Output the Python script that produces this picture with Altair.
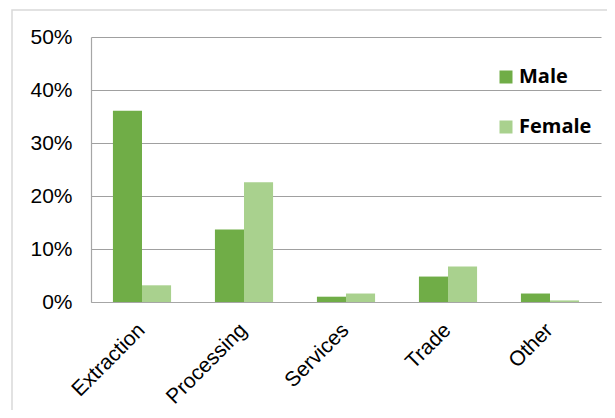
import altair as alt
import pandas as pd

categories = ["Extraction", "Processing", "Services", "Trade", "Other"]
male = [36.1, 13.7, 1.0, 4.8, 1.6]
female = [3.15, 22.6, 1.6, 6.7, 0.3]
series = ["Male", "Female"]
colors = ["#70AD47", "#A9D18E"]

rows = []
for i, c in enumerate(categories):
    rows.append({"sector": c, "sex": "Male", "share": male[i] / 100})
    rows.append({"sector": c, "sex": "Female", "share": female[i] / 100})
df = pd.DataFrame(rows)

frame = alt.Chart(pd.DataFrame({"k": [0]})).mark_rect(
    fill=None, stroke="#D9D9D9", strokeWidth=1.5
).encode(
    x=alt.value(-79), x2=alt.value(540), y=alt.value(-27), y2=alt.value(400)
)

bars = alt.Chart(df).mark_bar().encode(
    x=alt.X("sector:N", sort=categories,
            scale=alt.Scale(paddingInner=0.43, paddingOuter=0.215),
            axis=alt.Axis(title=None, labelAngle=-45, labelFont="Liberation Sans",
                          labelFontSize=21, labelColor="#000000", ticks=False,
                          domainColor="#A6A6A6", domainWidth=1.2, labelPadding=17,
                          labelOffset=-8)),
    xOffset=alt.XOffset("sex:N", sort=series),
    y=alt.Y("share:Q", scale=alt.Scale(domain=[0, 0.5]),
            axis=alt.Axis(title=None, format=".0%", values=[0, 0.1, 0.2, 0.3, 0.4, 0.5],
                          labelFont="Liberation Sans", labelFontSize=21,
                          labelColor="#000000", ticks=False, labelPadding=19,
                          domainColor="#A6A6A6", domainWidth=1.2,
                          gridColor="#A0A0A0", gridWidth=1.2)),
    color=alt.Color("sex:N", sort=series,
                    scale=alt.Scale(domain=series, range=colors),
                    legend=alt.Legend(title=None, orient="none", legendX=405, legendY=30,
                                      symbolType="square", symbolSize=169,
                                      symbolStrokeWidth=0, labelFont="Open Sans",
                                      labelFontWeight="bold", labelFontSize=20,
                                      labelColor="#000000", rowPadding=30,
                                      labelOffset=3)),
)

chart = alt.layer(frame, bars).properties(
    width=510, height=265,
    autosize=alt.AutoSizeParams(type="none"),
    padding={"left": 83, "top": 29, "right": 6, "bottom": 108},
).configure_view(stroke=None)

chart.save("out.html", embed_options={"renderer": "svg", "actions": False})
